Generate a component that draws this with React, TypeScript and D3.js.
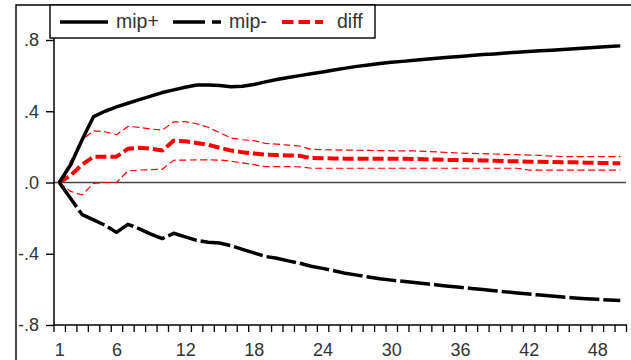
import React, { useEffect, useRef } from 'react'
import { select, scaleLinear, line, axisBottom, axisLeft } from 'd3'

// periods of the response (x categories)
const periods = [
  1, 2, 3, 4, 5, 6, 7, 8, 9, 10, 11, 12, 13, 14, 15, 16, 17, 18, 19, 20,
  21, 22, 23, 24, 25, 26, 27, 28, 29, 30, 31, 32, 33, 34, 35, 36, 37, 38, 39, 40,
  41, 42, 43, 44, 45, 46, 47, 48, 49, 50
]
const xTickLabels = [1, 6, 12, 18, 24, 30, 36, 42, 48]
const yTickValues = [-0.8, -0.4, 0, 0.4, 0.8]

const mipPlus = [
  0, 0.10, 0.24, 0.37, 0.40, 0.425, 0.445, 0.465, 0.485, 0.505,
  0.52, 0.535, 0.547, 0.547, 0.545, 0.537, 0.54, 0.55, 0.565, 0.578,
  0.59, 0.60, 0.61, 0.62, 0.632, 0.642, 0.652, 0.66, 0.668, 0.675,
  0.68, 0.686, 0.692, 0.698, 0.703, 0.708, 0.713, 0.718, 0.722, 0.727,
  0.731, 0.735, 0.739, 0.743, 0.747, 0.751, 0.755, 0.759, 0.763, 0.767
]
const mipMinus = [
  0, -0.09, -0.18, -0.21, -0.24, -0.28, -0.235, -0.26, -0.29, -0.315,
  -0.285, -0.305, -0.325, -0.335, -0.34, -0.355, -0.375, -0.395, -0.415, -0.425,
  -0.44, -0.453, -0.47, -0.482, -0.495, -0.51, -0.52, -0.53, -0.54, -0.548,
  -0.555, -0.562, -0.568, -0.575, -0.582, -0.588, -0.595, -0.601, -0.608, -0.614,
  -0.62, -0.626, -0.632, -0.637, -0.643, -0.648, -0.652, -0.656, -0.66, -0.663
]
const diff = [
  0, 0.04, 0.10, 0.145, 0.145, 0.145, 0.19, 0.195, 0.19, 0.18,
  0.235, 0.232, 0.222, 0.212, 0.195, 0.18, 0.17, 0.163, 0.157, 0.154,
  0.152, 0.15, 0.137, 0.136, 0.135, 0.134, 0.134, 0.134, 0.133, 0.133,
  0.133, 0.132, 0.13, 0.129, 0.127, 0.126, 0.125, 0.124, 0.122, 0.12,
  0.119, 0.117, 0.116, 0.115, 0.114, 0.113, 0.111, 0.11, 0.109, 0.108
]
const diffUpper = [
  0, 0.12, 0.24, 0.29, 0.285, 0.268, 0.315, 0.31, 0.30, 0.295,
  0.34, 0.342, 0.33, 0.31, 0.28, 0.25, 0.24, 0.235, 0.22, 0.215,
  0.21, 0.205, 0.186, 0.184, 0.183, 0.182, 0.181, 0.18, 0.179, 0.178,
  0.178, 0.177, 0.175, 0.172, 0.168, 0.165, 0.163, 0.162, 0.16, 0.158,
  0.156, 0.154, 0.152, 0.148, 0.146, 0.145, 0.145, 0.145, 0.145, 0.145
]
const diffLower = [
  0, -0.05, -0.07, -0.005, 0, 0, 0.065, 0.07, 0.072, 0.074,
  0.125, 0.126, 0.127, 0.127, 0.126, 0.12, 0.11, 0.1, 0.089, 0.089,
  0.089, 0.088, 0.08, 0.08, 0.08, 0.08, 0.08, 0.08, 0.08, 0.08,
  0.08, 0.08, 0.08, 0.08, 0.08, 0.08, 0.08, 0.08, 0.08, 0.08,
  0.08, 0.07, 0.07, 0.07, 0.07, 0.07, 0.07, 0.07, 0.07, 0.07
]

const FONT = "Arial, 'Liberation Sans', sans-serif"

const App = () => {
  const svgRef = useRef<SVGSVGElement>(null)

  useEffect(() => {
    const svg = select(svgRef.current)
    svg.selectAll('*').remove()

    const xScale = scaleLinear().domain([0.5, 50.5]).range([53.5, 626])
    const yScale = scaleLinear().domain([-0.8, 0.8]).range([325, 40])

    // outer frame
    svg.append('path')
      .attr('d', 'M16,360 L16,5 L631,5')
      .attr('fill', 'none')
      .attr('stroke', '#000')
      .attr('stroke-width', 1.4)

    // zero line
    svg.append('line')
      .attr('x1', xScale(0.5)).attr('x2', xScale(50.5))
      .attr('y1', yScale(0)).attr('y2', yScale(0))
      .attr('stroke', '#444')
      .attr('stroke-width', 1.5)

    const series = [
      { values: diffUpper, color: 'red', width: 1.2, dash: '7,3.5' },
      { values: diffLower, color: 'red', width: 1.2, dash: '7,3.5' },
      { values: diff, color: 'red', width: 4, dash: '11,4' },
      { values: mipMinus, color: '#000', width: 3.5, dash: '30,4' },
      { values: mipPlus, color: '#000', width: 3.5, dash: null },
    ]

    series.forEach(s => {
      const pathGen = line<number>()
        .x((d, i) => xScale(periods[i]))
        .y(d => yScale(d))
      svg.append('path')
        .attr('d', pathGen(s.values))
        .attr('fill', 'none')
        .attr('stroke', s.color)
        .attr('stroke-width', s.width)
        .attr('stroke-dasharray', s.dash)
        .attr('stroke-linejoin', 'round')
    })

    // y axis
    svg.append('line')
      .attr('x1', 54).attr('x2', 54)
      .attr('y1', 5).attr('y2', 325.5)
      .attr('stroke', '#000')
      .attr('stroke-width', 1.5)
    const yAxis = axisLeft(yScale)
      .tickValues(yTickValues)
      .tickSize(8)
      .tickPadding(7)
      .tickFormat(d => (+d).toFixed(1).replace('0.', '.'))
    const gy = svg.append('g').attr('transform', 'translate(54,0)').call(yAxis)
    gy.select('.domain').remove()
    gy.selectAll('line').attr('stroke', '#000').attr('stroke-width', 1.4)
    gy.selectAll('text').attr('font-family', FONT).attr('font-size', 18).attr('fill', '#333')

    // x axis: minor ticks between periods, labels every 6
    svg.append('line')
      .attr('x1', 53).attr('x2', 627)
      .attr('y1', 325).attr('y2', 325)
      .attr('stroke', '#000')
      .attr('stroke-width', 1.5)
    const xTicks = periods.map(p => p - 0.5).concat([50.5])
    const gx = svg.append('g').attr('transform', 'translate(0,325)')
      .call(axisBottom(xScale).tickValues(xTicks).tickSize(7).tickFormat(() => ''))
    gx.select('.domain').remove()
    gx.selectAll('line').attr('stroke', '#000').attr('stroke-width', 1.3)
    const gl = svg.append('g').attr('transform', 'translate(0,325)')
      .call(axisBottom(xScale).tickValues(xTickLabels).tickSize(0).tickPadding(18).tickFormat(d => String(d)))
    gl.select('.domain').remove()
    gl.selectAll('text').attr('font-family', FONT).attr('font-size', 18).attr('fill', '#333')

    // legend
    const legend = svg.append('g')
    legend.append('rect')
      .attr('x', 50).attr('y', 5).attr('width', 325).attr('height', 33)
      .attr('fill', '#fff').attr('stroke', '#000').attr('stroke-width', 1.4)
    const items = [
      { label: 'mip+', x: 60, color: '#000', width: 3.5, dash: null },
      { label: 'mip-', x: 173, color: '#000', width: 3.5, dash: '32,7,9' },
      { label: 'diff', x: 282, color: 'red', width: 4, dash: '11.5,5' },
    ]
    items.forEach(it => {
      legend.append('line')
        .attr('x1', it.x).attr('x2', it.x + (it.label === 'diff' ? 41 : 48))
        .attr('y1', 22).attr('y2', 22)
        .attr('stroke', it.color)
        .attr('stroke-width', it.width)
        .attr('stroke-dasharray', it.dash)
      legend.append('text')
        .attr('x', it.x + (it.label === 'diff' ? 55 : 56))
        .attr('y', 28)
        .attr('font-family', FONT)
        .attr('font-size', 19.5)
        .attr('fill', '#333')
        .text(it.label)
    })
  }, [])

  return (
    <svg ref={svgRef} width={631} height={360}
      style={{ position: 'absolute', left: 0, top: 0, background: '#fff' }} />
  )
}

export default App
